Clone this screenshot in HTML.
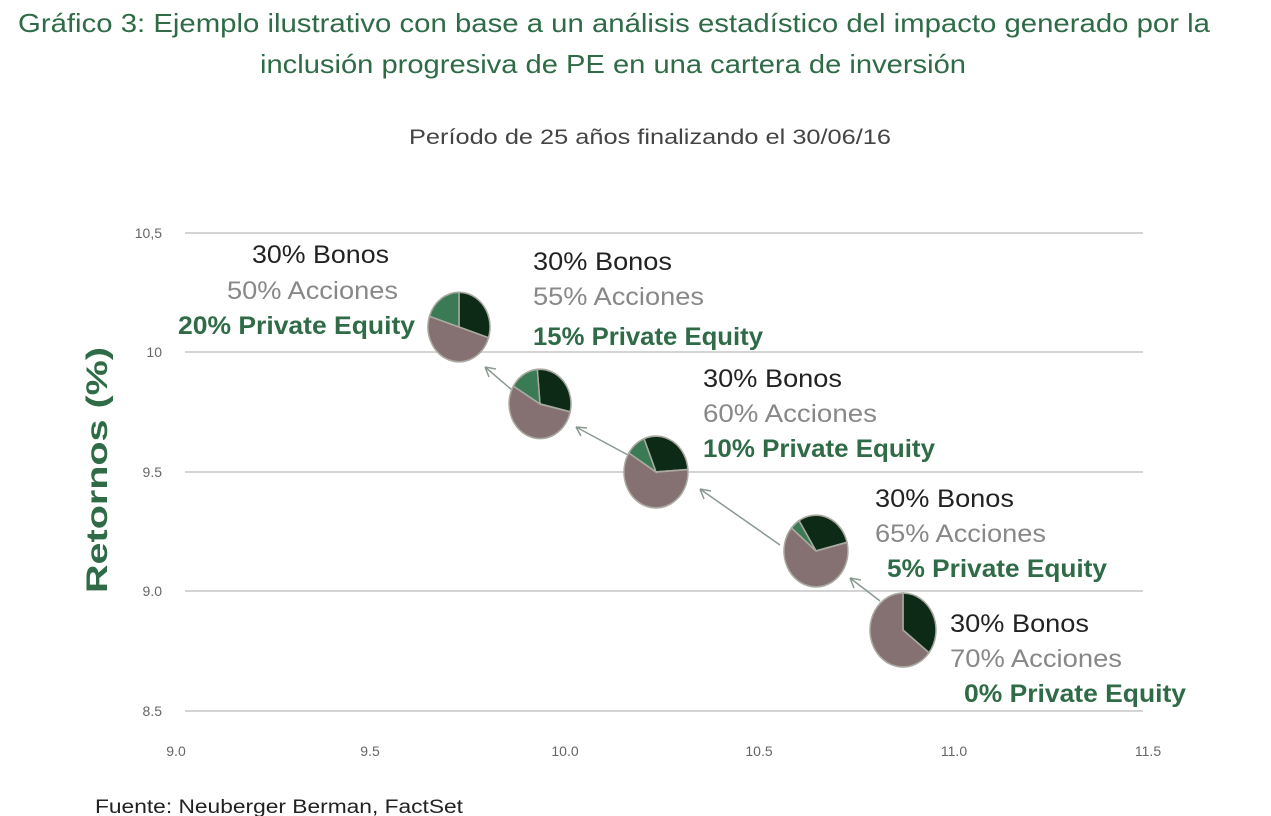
<!DOCTYPE html>
<html><head><meta charset="utf-8"><style>
html,body{margin:0;padding:0;background:#fff;}
svg{display:block;font-family:"Liberation Sans",sans-serif;}
</style></head><body>
<svg width="1271" height="816" viewBox="0 0 1271 816" xmlns="http://www.w3.org/2000/svg">
<text x="18" y="32" font-size="26" fill="#2e6b46" textLength="1192" lengthAdjust="spacingAndGlyphs">Gráfico 3: Ejemplo ilustrativo con base a un análisis estadístico del impacto generado por la</text>
<text x="260" y="73" font-size="26" fill="#2e6b46" textLength="706" lengthAdjust="spacingAndGlyphs">inclusión progresiva de PE en una cartera de inversión</text>
<text x="409" y="144" font-size="21" fill="#444" textLength="482" lengthAdjust="spacingAndGlyphs">Período de 25 años finalizando el 30/06/16</text>
<g stroke="#d4d4d4" stroke-width="2">
<line x1="185" y1="233" x2="1143" y2="233"/>
<line x1="185" y1="352" x2="1143" y2="352"/>
<line x1="185" y1="472" x2="1143" y2="472"/>
<line x1="185" y1="591" x2="1143" y2="591"/>
<line x1="185" y1="711" x2="1143" y2="711"/>
</g>
<g font-size="14" fill="#666" text-anchor="end">
<text x="162" y="238">10,5</text><text x="162" y="357">10</text><text x="162" y="477">9.5</text><text x="162" y="596">9.0</text><text x="162" y="716">8.5</text>
</g>
<g font-size="14" fill="#666" text-anchor="middle">
<text x="176" y="756">9.0</text><text x="370" y="756">9.5</text><text x="565" y="756">10.0</text><text x="759" y="756">10.5</text><text x="954" y="756">11.0</text><text x="1148" y="756">11.5</text>
</g>
<text transform="translate(107,470) rotate(-90)" font-size="30" font-weight="bold" fill="#2e6b46" text-anchor="middle" textLength="246" lengthAdjust="spacingAndGlyphs">Retornos (%)</text>
<text x="95" y="813" font-size="19" fill="#222" textLength="368" lengthAdjust="spacingAndGlyphs">Fuente: Neuberger Berman, FactSet</text>
<g stroke="#8a9a90" stroke-width="1.5" fill="none">
<path d="M880 601 L850 578 M850 578 l4 10 M850 578 l11 2"/>
<path d="M780 545 L700 489 M700 489 l4 10 M700 489 l11 2"/>
<path d="M628 455 L576 427 M576 427 l5 9 M576 427 l11 1"/>
<path d="M512 390 L485 367 M485 367 l4 10 M485 367 l11 2"/>
</g>
<g id="pies" stroke="#a9a9a0" stroke-width="1.5"></g>
<g font-size="25">
<text x="252" y="263" fill="#222" textLength="137" lengthAdjust="spacingAndGlyphs">30% Bonos</text>
<text x="227" y="299" fill="#888" textLength="171" lengthAdjust="spacingAndGlyphs">50% Acciones</text>
<text x="178" y="334" fill="#2e6b46" font-weight="bold" textLength="237" lengthAdjust="spacingAndGlyphs">20% Private Equity</text>
<text x="533" y="270" fill="#222" textLength="139" lengthAdjust="spacingAndGlyphs">30% Bonos</text>
<text x="533" y="305" fill="#888" textLength="171" lengthAdjust="spacingAndGlyphs">55% Acciones</text>
<text x="533" y="345" fill="#2e6b46" font-weight="bold" textLength="230" lengthAdjust="spacingAndGlyphs">15% Private Equity</text>
<text x="703" y="387" fill="#222" textLength="139" lengthAdjust="spacingAndGlyphs">30% Bonos</text>
<text x="703" y="422" fill="#888" textLength="174" lengthAdjust="spacingAndGlyphs">60% Acciones</text>
<text x="703" y="457" fill="#2e6b46" font-weight="bold" textLength="232" lengthAdjust="spacingAndGlyphs">10% Private Equity</text>
<text x="875" y="507" fill="#222" textLength="139" lengthAdjust="spacingAndGlyphs">30% Bonos</text>
<text x="875" y="542" fill="#888" textLength="171" lengthAdjust="spacingAndGlyphs">65% Acciones</text>
<text x="887" y="577" fill="#2e6b46" font-weight="bold" textLength="220" lengthAdjust="spacingAndGlyphs">5% Private Equity</text>
<text x="950" y="632" fill="#222" textLength="139" lengthAdjust="spacingAndGlyphs">30% Bonos</text>
<text x="950" y="667" fill="#888" textLength="172" lengthAdjust="spacingAndGlyphs">70% Acciones</text>
<text x="964" y="702" fill="#2e6b46" font-weight="bold" textLength="222" lengthAdjust="spacingAndGlyphs">0% Private Equity</text>
</g>
<script>
(function(){
var g=document.getElementById('pies');
var pies=[[459,327,31,20,0],[540,404,31,15,-5],[656,472,32,10,-22],[816,551,32,5,-32],[903,630,33,0,0]];
function pt(cx,cy,r,a){a=(a-90)*Math.PI/180;return (cx+r*Math.cos(a)).toFixed(1)+' '+(cy+r*Math.sin(a)).toFixed(1);}
function sl(par,cx,cy,r,a0,a1,c){if(a1-a0<=0)return;var p=document.createElementNS('http://www.w3.org/2000/svg','path');
p.setAttribute('d','M'+cx+' '+cy+' L'+pt(cx,cy,r,a0)+' A'+r+' '+r+' 0 '+((a1-a0)>180?1:0)+' 1 '+pt(cx,cy,r,a1)+' Z');p.setAttribute('fill',c);par.appendChild(p);}
pies.forEach(function(q){var cx=q[0],cy=q[1],r=q[2],pe=q[3],o=q[4];
var gg=document.createElementNS('http://www.w3.org/2000/svg','g');
gg.setAttribute('transform','translate('+cx+' '+cy+') scale(1 1.12) translate('+(-cx)+' '+(-cy)+')');g.appendChild(gg);
var d=108+(pe?0:20);
sl(gg,cx,cy,r,o,o+d,'#0d2a17');sl(gg,cx,cy,r,o+d,o+360-pe*3.6,'#857172');sl(gg,cx,cy,r,o+360-pe*3.6,o+360,'#3a7a55');});
})();
</script>
</svg>
</body></html>
